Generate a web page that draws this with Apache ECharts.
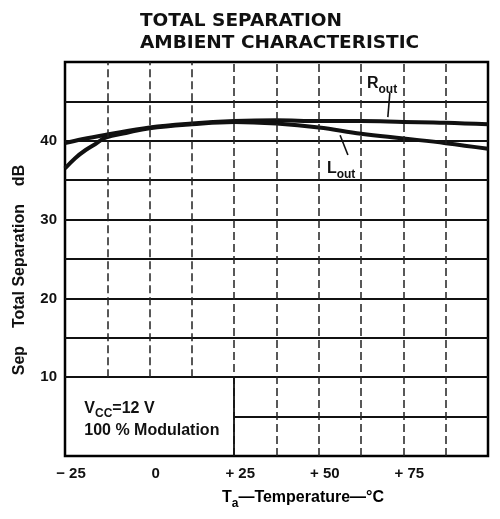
<!DOCTYPE html>
<html><head><meta charset="utf-8">
<script src="https://cdn.jsdelivr.net/npm/echarts@6/dist/echarts.min.js"></script>
<style>html,body{margin:0;padding:0;background:#fff}#c{width:500px;height:519px}</style>
</head><body><div id="c"></div>
<script>
// ---- data ----
const xTicks = [-25, 0, 25, 50, 75, 100];
const xTickLabels = ['\u2212 25', '0', '+ 25', '+ 50', '+ 75', ''];
const yTicks = [0, 10, 20, 30, 40, 50];
const yTickLabels = ['', '10', '20', '30', '40', ''];
const gridXs = [-12.5, 0, 12.5, 25, 37.5, 50, 62.5, 75, 87.5];
const gridYs = [5, 10, 15, 20, 25, 30, 35, 40, 45];
const boxX = 25;   // annotation inset right edge (temp)
const boxY = 10;   // annotation inset top edge (dB)

const rOutTemp = [-25, -20, -12.5, 0, 12.5, 25, 37.5, 50, 62.5, 75, 87.5, 100];
const rOutSep  = [39.7, 40.2, 40.8, 41.7, 42.2, 42.5, 42.6, 42.5, 42.5, 42.4, 42.3, 42.1];
const lOutTemp = [-25, -22, -19, -16, -13, -7, 0, 12.5, 25, 37.5, 50, 62.5, 75, 87.5, 100];
const lOutSep  = [36.5, 37.8, 38.8, 39.6, 40.4, 41.0, 41.6, 42.1, 42.4, 42.2, 41.7, 40.9, 40.3, 39.7, 39.0];

// annotation anchors (data units)
const rLabelPos = [68.7, 47.3];
const lLabelPos = [56.6, 36.5];
const rLeader = [[71.0, 46.1], [70.4, 43.0]];
const lLeader = [[56.3, 40.7], [58.6, 38.2]];
const condPos = [-19.3, 4.8];

const xMin = -25, xMax = 100, yMin = 0, yMax = 50;
const FONT = '"Liberation Sans", Arial, sans-serif';
const INK = '#111';

// ---- grid lines ----
const gridLines = [];
gridYs.forEach(y => {
  const x0 = y < boxY ? boxX : xMin;
  gridLines.push([{coord: [x0, y], lineStyle: {type: 'solid', width: 1.8, color: INK}}, {coord: [xMax, y]}]);
});
gridXs.forEach(x => {
  const y0 = x < boxX ? boxY : yMin;
  gridLines.push([{coord: [x, y0], lineStyle: {type: [8, 4], width: 1.5, color: '#222'}}, {coord: [x, yMax]}]);
});
gridLines.push([{coord: [boxX, yMin], lineStyle: {type: 'solid', width: 1.8, color: INK}}, {coord: [boxX, boxY]}]);

const chart = echarts.init(document.getElementById('c'));
const subRich = {
  n: {fontFamily: FONT, fontWeight: 'bold', fontSize: 16, color: INK, lineHeight: 24, verticalAlign: 'middle', opacity: 1},
  s: {fontFamily: FONT, fontWeight: 'bold', fontSize: 12, color: INK, lineHeight: 12, verticalAlign: 'bottom', opacity: 1},
  m: {fontFamily: FONT, fontWeight: 'bold', fontSize: 16, color: INK, lineHeight: 20, opacity: 1}
};

chart.setOption({
  animation: false,
  title: {
    text: 'TOTAL SEPARATION\nAMBIENT CHARACTERISTIC',
    left: 140, top: 10, padding: 0,
    textStyle: {fontFamily: '"DejaVu Sans", sans-serif', fontWeight: 'bold', fontSize: 18.5, lineHeight: 22, color: INK}
  },
  grid: {left: 65, right: 12, top: 62, bottom: 63, show: true, borderColor: '#000', borderWidth: 2.5, backgroundColor: 'transparent'},
  xAxis: {
    type: 'value', min: xMin, max: xMax, interval: 25,
    axisLine: {show: false}, axisTick: {show: false}, splitLine: {show: false},
    axisLabel: {
      formatter: v => { const i = xTicks.indexOf(v); return i >= 0 ? xTickLabels[i] : ''; },
      fontFamily: FONT, fontWeight: 'bold', fontSize: 15, color: INK, margin: 10, padding: [0, 0, 0, 12]
    }
  },
  yAxis: {
    type: 'value', min: yMin, max: yMax, interval: 10,
    axisLine: {show: false}, axisTick: {show: false}, splitLine: {show: false},
    axisLabel: {
      formatter: v => { const i = yTicks.indexOf(v); return i >= 0 ? yTickLabels[i] : ''; },
      fontFamily: FONT, fontWeight: 'bold', fontSize: 15, color: INK, margin: 8
    }
  },
  graphic: [
    {type: 'text', x: 20, y: 270, rotation: Math.PI / 2,
     style: {text: 'Sep    Total Separation    dB', fontFamily: FONT, fontWeight: 'bold', fontSize: 16, fill: INK, align: 'center', verticalAlign: 'middle'}},
    {type: 'text', x: 303, y: 498,
     style: {text: '{n|T}{s|a}{n|\u2014Temperature\u2014\u00b0C}', rich: subRich, align: 'center', verticalAlign: 'middle'}}
  ],
  series: [
    {type: 'line', data: [], silent: true, z: 1,
     markLine: {symbol: ['none', 'none'], silent: true, label: {show: false}, emphasis: {disabled: true}, data: gridLines}},
    {name: 'Rout', type: 'line', z: 3, smooth: 0.4, showSymbol: false, silent: true,
     data: rOutTemp.map((t, i) => [t, rOutSep[i]]), lineStyle: {width: 4, color: INK}},
    {name: 'Lout', type: 'line', z: 3, smooth: 0.4, showSymbol: false, silent: true,
     data: lOutTemp.map((t, i) => [t, lOutSep[i]]), lineStyle: {width: 4, color: INK}},
    {type: 'scatter', symbolSize: 0, silent: true, z: 4,
     itemStyle: {opacity: 1, color: INK},
     label: {color: INK, opacity: 1},
     data: [
       {value: rLabelPos, label: {show: true, position: 'inside', formatter: '{n|R}{s|out}', rich: subRich}},
       {value: lLabelPos, label: {show: true, position: 'inside', formatter: '{n|L}{s|out}', rich: subRich}},
       {value: condPos, label: {show: true, position: 'right', distance: 0, align: 'left',
         formatter: '{n|V}{s|CC}{n|=12 V}\n{m|100 % Modulation}', rich: subRich}}
     ],
     markLine: {symbol: ['none', 'none'], silent: true, label: {show: false}, emphasis: {disabled: true},
       lineStyle: {type: 'solid', width: 1.6, color: INK, opacity: 1},
       data: [
         [{coord: rLeader[0]}, {coord: rLeader[1]}],
         [{coord: lLeader[0]}, {coord: lLeader[1]}]
       ]}}
  ]
});
</script></body></html>
